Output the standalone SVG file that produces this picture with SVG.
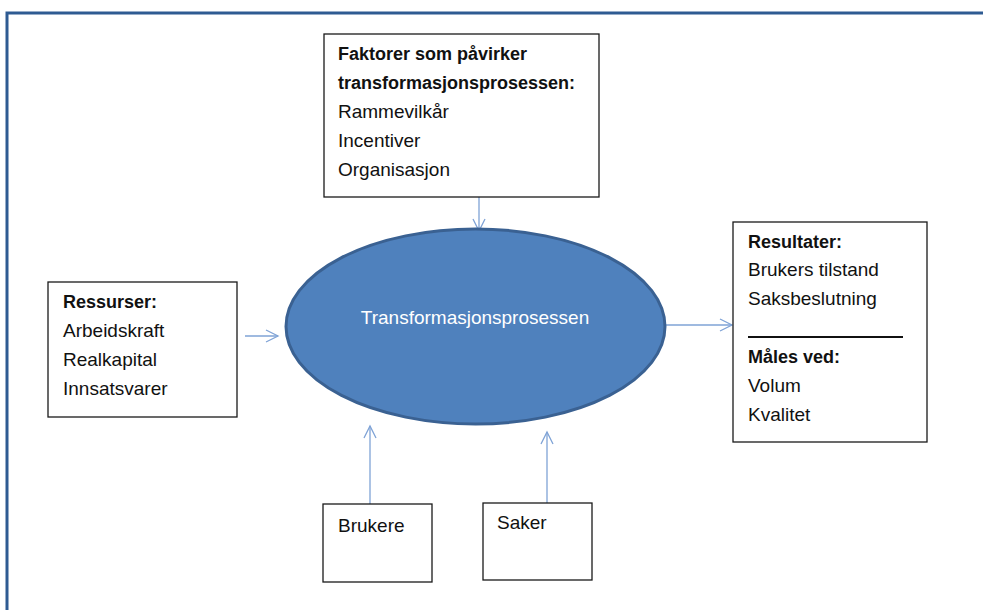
<svg xmlns="http://www.w3.org/2000/svg" width="983" height="610" viewBox="0 0 983 610">
  <style>
    .box { fill: #ffffff; stroke: #1a1a1a; stroke-width: 1.3; }
    .t { font-family: "Liberation Sans", Arial, sans-serif; font-size: 19px; fill: #111111; }
    .b { font-family: "Liberation Sans", Arial, sans-serif; font-size: 18px; font-weight: bold; fill: #111111; }
    .conn { stroke: #7fa3d6; stroke-width: 1.3; fill: none; marker-end: url(#chev); }
  </style>
  <defs>
    <marker id="chev" markerUnits="userSpaceOnUse" markerWidth="16" markerHeight="16" viewBox="-14 -8 16 16" refX="0" refY="0" orient="auto">
      <path d="M-12,-6 L0,0 L-12,6" fill="none" stroke="#7fa3d6" stroke-width="1.3"/>
    </marker>
  </defs>

  <rect width="983" height="610" fill="#ffffff"/>
  <!-- outer frame -->
  <path d="M7,612 V13 H985" fill="none" stroke="#2e5b92" stroke-width="3"/>

  <!-- connectors -->
  <g id="connectors">
    <line class="conn" x1="479" y1="197" x2="479" y2="231"/>
    <line class="conn" x1="245" y1="336" x2="278" y2="336"/>
    <line class="conn" x1="666" y1="325" x2="732" y2="325"/>
    <line class="conn" x1="370" y1="504" x2="370" y2="426"/>
    <line class="conn" x1="547" y1="503" x2="547" y2="432"/>
  </g>

  <g id="process">
    <ellipse cx="475.5" cy="326.5" rx="189.5" ry="97.5" fill="#4f81bd" stroke="#3a6192" stroke-width="3"/>
    <text x="475" y="324" text-anchor="middle" font-family="Liberation Sans, Arial, sans-serif" font-size="19" fill="#ffffff">Transformasjonsprosessen</text>
  </g>

  <g id="faktorer">
    <rect class="box" x="324" y="34" width="275" height="163"/>
    <text class="b" x="338" y="60">Faktorer som påvirker</text>
    <text class="b" x="338" y="89">transformasjonsprosessen:</text>
    <text class="t" x="338" y="118">Rammevilkår</text>
    <text class="t" x="338" y="147">Incentiver</text>
    <text class="t" x="338" y="176">Organisasjon</text>
  </g>

  <g id="ressurser">
    <rect class="box" x="48" y="282" width="189" height="135"/>
    <text class="b" x="63" y="308">Ressurser:</text>
    <text class="t" x="63" y="337">Arbeidskraft</text>
    <text class="t" x="63" y="366">Realkapital</text>
    <text class="t" x="63" y="395">Innsatsvarer</text>
  </g>

  <g id="resultater">
    <rect class="box" x="733" y="222" width="194" height="220"/>
    <text class="b" x="748" y="248">Resultater:</text>
    <text class="t" x="748" y="276">Brukers tilstand</text>
    <text class="t" x="748" y="305">Saksbeslutning</text>
    <line x1="748" y1="337" x2="903" y2="337" stroke="#111111" stroke-width="2"/>
    <text class="b" x="748" y="363">Måles ved:</text>
    <text class="t" x="748" y="392">Volum</text>
    <text class="t" x="748" y="421">Kvalitet</text>
  </g>

  <g id="brukere">
    <rect class="box" x="323" y="504" width="109" height="78"/>
    <text class="t" x="338" y="532">Brukere</text>
  </g>

  <g id="saker">
    <rect class="box" x="483" y="503" width="109" height="77"/>
    <text class="t" x="497" y="529">Saker</text>
  </g>
</svg>
